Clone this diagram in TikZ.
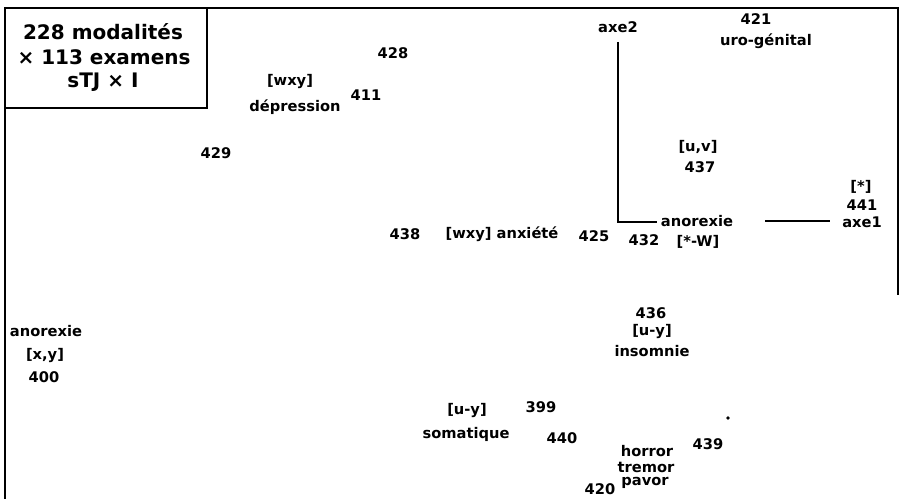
\documentclass[tikz,border=0pt]{standalone}
\usepackage{fontspec}
\setmainfont{DejaVu Sans}
\begin{document}
\begin{tikzpicture}[x=0.75pt,y=-0.75pt,
  lab/.style={inner sep=0pt,font=\fontsize{11}{13}\selectfont\bfseries},
  big/.style={inner sep=0pt,font=\fontsize{15}{17}\selectfont\bfseries},
  frame/.style={line width=1.6pt},
  axis/.style={line width=1.4pt}]
\useasboundingbox (0,0) rectangle (901,499);
% frame
\coordinate (fl) at (5,499);
\coordinate (ftl) at (5,8);
\coordinate (ftr) at (898,8);
\coordinate (fr) at (898,295);
\draw[frame] (fl) -- (ftl) -- (ftr) -- (fr);
% title box
\coordinate (bx1) at (5,8);
\coordinate (bx2) at (207,108);
\draw[frame] (bx1) rectangle (bx2);
\node[big] (t1) at (103,32) {228 modalités};
\node[big] (t2) at (104,57) {× 113 examens};
\node[big] (t3) at (103,82) {sTJ × I};
% axes
\coordinate (o) at (618,222);
\coordinate (a2top) at (618,42);
\coordinate (a1a) at (657,222);
\coordinate (a1b) at (765,221);
\coordinate (a1c) at (830,221);
\draw[axis] (a2top) -- (o) -- (a1a);
\draw[axis] (a1b) -- (a1c);
\node[lab] (axe2) at (618,27) {axe2};
\node[lab] (axe1) at (862,222) {axe1};
% labels
\node[lab] (n428) at (393,53) {428};
\node[lab] (wxy1) at (290,82) {[wxy]};
\node[lab] (dep) at (295,107) {dépression};
\node[lab] (n411) at (366,95) {411};
\node[lab] (n429) at (216,153) {429};
\node[lab] (n421) at (756,19) {421};
\node[lab] (uro) at (766,41) {uro-génital};
\node[lab] (uv) at (698,147) {[u,v]};
\node[lab] (n437) at (700,167) {437};
\node[lab] (star) at (861,187) {[*]};
\node[lab] (n441) at (862,205) {441};
\node[lab] (n438) at (405,234) {438};
\node[lab] (anx) at (502,234) {[wxy] anxiété};
\node[lab] (n425) at (594,236) {425};
\node[lab] (n432) at (644,240) {432};
\node[lab] (anor2) at (697,221) {anorexie};
\node[lab] (sw) at (698,242) {[*-W]};
\node[lab] (anor1) at (46,331) {anorexie};
\node[lab] (xy) at (45,356) {[x,y]};
\node[lab] (n400) at (44,377) {400};
\node[lab] (n436) at (651,313) {436};
\node[lab] (uy1) at (652,332) {[u-y]};
\node[lab] (ins) at (652,351) {insomnie};
\node[lab] (uy2) at (467,411) {[u-y]};
\node[lab] (n399) at (541,407) {399};
\node[lab] (som) at (466,434) {somatique};
\node[lab] (n440) at (562,438) {440};
\node[lab] (hor) at (647,451) {horror};
\node[lab] (tre) at (646,467) {tremor};
\node[lab] (pav) at (645,483) {pavor};
\node[lab] (n439) at (708,444) {439};
\node[lab] (n420) at (600,489) {420};
\fill (728,418) circle (1.8);
\end{tikzpicture}
\end{document}
